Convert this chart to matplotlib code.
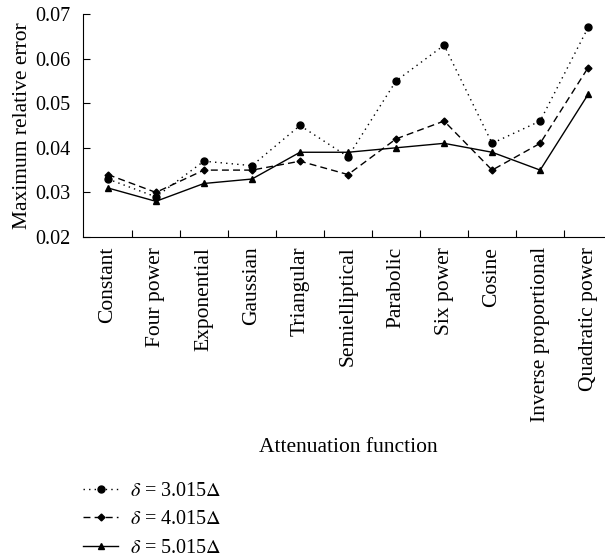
import matplotlib.pyplot as plt

plt.rcParams['font.family'] = 'Liberation Serif'
plt.rcParams['mathtext.fontset'] = 'stix'

categories = ['Constant', 'Four power', 'Exponential', 'Gaussian', 'Triangular',
              'Semielliptical', 'Parabolic', 'Six power', 'Cosine',
              'Inverse proportional', 'Quadratic power']
err_3015 = [0.033, 0.029, 0.037, 0.036, 0.045, 0.038, 0.055, 0.063, 0.041, 0.046, 0.067]
err_4015 = [0.034, 0.030, 0.035, 0.035, 0.037, 0.034, 0.042, 0.046, 0.035, 0.041, 0.058]
err_5015 = [0.031, 0.028, 0.032, 0.033, 0.039, 0.039, 0.040, 0.041, 0.039, 0.035, 0.052]

fig = plt.figure(figsize=(6.05, 5.59), dpi=100)
ax = fig.add_axes([0.137, 0.576, 0.863, 0.399])

x = list(range(len(categories)))
ax.plot(x, err_3015, color='black', linestyle=(0, (1, 3)), linewidth=1,
        marker='o', markersize=5, label=r'$\delta$ = 3.015$\Delta$')
ax.plot(x, err_4015, color='black', linestyle=(0, (5, 3)), linewidth=1,
        marker='D', markersize=3.5, label=r'$\delta$ = 4.015$\Delta$')
ax.plot(x, err_5015, color='black', linestyle='-', linewidth=1,
        marker='^', markersize=5, label=r'$\delta$ = 5.015$\Delta$')

ax.set_xlim(-0.52, 10.35)
ax.set_ylim(0.02, 0.07)
ax.set_yticks([0.02, 0.03, 0.04, 0.05, 0.06, 0.07])
ax.set_xticks([i + 0.5 for i in x[:-1]])
ax.set_xticklabels([])
ax.set_xticks(x, minor=True)
ax.set_xticklabels(categories, minor=True, rotation=90, fontsize=15.5)
ax.tick_params(axis='x', which='minor', length=0, pad=7)
ax.tick_params(axis='x', which='major', direction='in', length=5)
ax.tick_params(axis='y', direction='in', length=5, labelsize=14.5, pad=9)
ax.spines['top'].set_visible(False)
ax.spines['right'].set_visible(False)
ax.set_ylabel('Maximum relative error', fontsize=15.5, labelpad=2)

fig.text(0.575, 0.191, 'Attenuation function', ha='center', fontsize=15.5)
fig.legend(loc='lower left', bbox_to_anchor=(0.108, -0.03), frameon=False,
           fontsize=14.5, handlelength=1.7, handletextpad=0.6, labelspacing=0.45)

fig.savefig('out.png', dpi=100)
